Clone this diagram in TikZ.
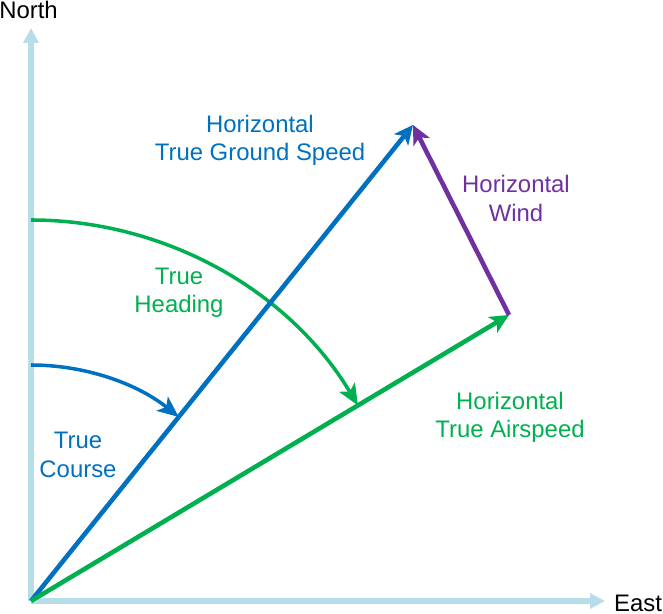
\documentclass[tikz,border=0pt]{standalone}
\usepackage{fontspec}
\setmainfont{Liberation Sans}
\usetikzlibrary{arrows.meta}
\usetikzlibrary{positioning}
\definecolor{mblue}{HTML}{0070C0}
\definecolor{mgreen}{HTML}{00B050}
\definecolor{mpurple}{HTML}{7030A0}
\definecolor{maxis}{HTML}{B7DEE8}
\tikzset{
  axis/.style = {draw=maxis, line width=3pt, -{Triangle[length=0.3cm, width=0.3cm]}},
  vec/.style = {line width=2.6pt, -{Stealth[length=0.38cm, width=0.36cm, inset=0.1cm]}},
  angarc/.style = {line width=2pt, -{Stealth[length=0.42cm, width=0.36cm, inset=0.1cm]}},
  lbl/.style = {align=center, inner sep=0, font=\fontsize{13.6}{16.1}\selectfont}
}

\begin{document}
\begin{tikzpicture}
    \useasboundingbox (-0.62, -0.26) rectangle (12.64, 12.02);

    \coordinate (O) at (0, 0);
    \coordinate (N) at (0, 11.46);
    \coordinate (E) at (11.48, 0);
    \coordinate (gs) at (7.64, 9.52);
    \coordinate (as) at (9.56, 5.72);

    \draw [axis] (O) -- (N);
    \draw [axis] (O) -- (E);
    \node [lbl] (north) at (-0.05, 11.83) {North};
    \node [lbl] (east) at (12.14, -0.04) {East};

    \draw [angarc, draw=mblue] (0, 4.72) arc [start angle=90, end angle=51.25, radius=4.72];
    \draw [angarc, draw=mgreen] (0, 7.62) arc [start angle=90, end angle=30.9, radius=7.62];

    \draw [vec, draw=mblue] (O) -- (gs);
    \draw [vec, draw=mgreen] (O) -- (as);
    \draw [vec, draw=mpurple] (as) -- (gs);

    \node [lbl, text=mblue] (gslbl) at (4.58, 9.22) {Horizontal\\True Ground Speed};
    \node [lbl, text=mpurple] (windlbl) at (9.70, 8.05) {Horizontal\\Wind};
    \node [lbl, text=mgreen] (headlbl) at (2.96, 6.17) {True\\Heading};
    \node [lbl, text=mblue] (courselbl) at (0.94, 2.92) {True\\Course};
    \node [lbl, text=mgreen] (aslbl) at (9.58, 3.68) {Horizontal\\True Airspeed};
  \end{tikzpicture}
\end{document}
